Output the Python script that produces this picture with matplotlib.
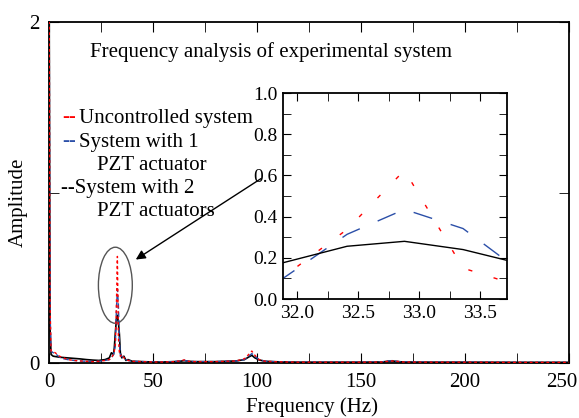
import matplotlib
matplotlib.use('Agg')
import matplotlib.pyplot as plt
import matplotlib.transforms as mtransforms
from matplotlib.patches import Ellipse

plt.rcParams['font.family'] = ['Liberation Serif', 'DejaVu Serif']

# main spectrum (Hz, amplitude)
freq = [0, 0.5, 1, 2, 3, 4, 5, 7, 9, 12, 15, 18, 21, 24, 27, 29, 30, 31, 31.41,
        31.88, 32.41, 32.88, 33.36, 33.84, 34.3, 35, 36, 37, 38, 40, 45, 50, 55,
        60, 63, 65, 67, 70, 80, 90, 94, 96, 97.5, 99, 101, 104, 110, 120, 135,
        150, 160, 163, 165, 167, 170, 185, 200, 225, 250]
amp_red = [2.5, 0.35, 0.07, 0.065, 0.06, 0.05, 0.04, 0.03, 0.02, 0.015, 0.012, 0.01,
           0.008, 0.01, 0.015, 0.02, 0.03, 0.05, 0.07,
           0.106, 0.338, 0.625, 0.15, 0.06, 0.04, 0.05, 0.03, 0.025, 0.015, 0.01,
           0.008, 0.006, 0.006, 0.008, 0.012, 0.018, 0.01, 0.008, 0.008, 0.012,
           0.025, 0.05, 0.07, 0.045, 0.02, 0.01, 0.007, 0.005, 0.005, 0.005,
           0.006, 0.01, 0.012, 0.01, 0.006, 0.005, 0.005, 0.004, 0.004]
amp_blue = [2.5, 0.3, 0.07, 0.06, 0.055, 0.045, 0.035, 0.025, 0.02, 0.015, 0.012, 0.01,
            0.009, 0.01, 0.015, 0.02, 0.03, 0.05, 0.07,
            0.10, 0.314, 0.435, 0.342, 0.13, 0.05, 0.04, 0.03, 0.02, 0.015, 0.01,
            0.008, 0.006, 0.006, 0.008, 0.012, 0.016, 0.01, 0.008, 0.008, 0.012,
            0.02, 0.04, 0.055, 0.04, 0.02, 0.01, 0.007, 0.005, 0.005, 0.005,
            0.006, 0.012, 0.014, 0.01, 0.006, 0.005, 0.005, 0.004, 0.004]
amp_black = [2.5, 0.2, 0.05, 0.04, 0.038, 0.036, 0.034, 0.032, 0.03, 0.027, 0.024, 0.02,
             0.017, 0.015, 0.02, 0.03, 0.06, 0.05, 0.09,
             0.176, 0.256, 0.28, 0.24, 0.17, 0.06, 0.03, 0.04, 0.015, 0.02, 0.01,
             0.008, 0.006, 0.006, 0.008, 0.01, 0.014, 0.01, 0.008, 0.008, 0.012,
             0.02, 0.035, 0.045, 0.03, 0.018, 0.01, 0.007, 0.005, 0.005, 0.005,
             0.006, 0.01, 0.012, 0.009, 0.006, 0.005, 0.005, 0.004, 0.004]

# zoomed peak for the inset
inset_freq = [31.885, 32.41, 32.88, 33.36, 33.84]
inset_red = [0.106, 0.338, 0.625, 0.15, 0.06]
inset_blue = [0.10, 0.314, 0.435, 0.342, 0.13]
inset_black = [0.176, 0.256, 0.28, 0.24, 0.17]

fig = plt.figure(figsize=(5.79, 4.18), dpi=100)
ax = fig.add_axes([49/579, 55/418, 520/579, 341/418])

ax.plot(freq, amp_red, color='red', ls=(0, (2, 2)), lw=1.0, zorder=3)
ax.plot(freq, amp_blue, color='#2b4fa8', ls=(0, (4, 2)), lw=1.0, zorder=2)
ax.plot(freq, amp_black, color='black', lw=1.2, zorder=1)

ax.set_xlim(0, 250)
ax.set_ylim(0, 2)
ax.set_xticks([0, 50, 100, 150, 200, 250])
ax.set_xticks([25, 75, 125, 175, 225], minor=True)
ax.set_yticks([0, 2])
ax.set_yticks([1], minor=True)
ax.tick_params(which='both', direction='in', top=True, right=True, labelsize=15)
ax.tick_params(which='major', length=7, pad=7)
ax.tick_params(which='minor', length=7)
for s in ax.spines.values():
    s.set_linewidth(1.3)
# last label sits a bit left in the original, keep it inside the figure
lab = ax.get_xticklabels()[-1]
lab.set_transform(lab.get_transform() + mtransforms.ScaledTranslation(-7/100, 0, fig.dpi_scale_trans))

ell = Ellipse((31.9, 0.456), 16.3, 0.446, fill=False, edgecolor='#555555', lw=1.0)
ax.add_patch(ell)
ax.annotate('', xy=(40.6, 0.598), xytext=(103, 1.09),
            arrowprops=dict(arrowstyle='-|>', color='black', lw=1.0, mutation_scale=14))

fig.text(271/579, 1 - 52/418, 'Frequency analysis of experimental system',
         ha='center', va='center', fontsize=15)
fig.text(18/579, 1 - 202/418, 'Amplitude', rotation=90, ha='center', va='center', fontsize=15)
fig.text(312/579, 1 - 407/418, 'Frequency (Hz)', ha='center', va='center', fontsize=15)

# legend written as text, like the original
fig.text(62/579, 1 - 118/418, '--', color='red', va='center', fontsize=15)
fig.text(79/579, 1 - 118/418, 'Uncontrolled system', va='center', fontsize=15)
fig.text(62/579, 1 - 142/418, '--', color='#2b4fa8', va='center', fontsize=15)
fig.text(79/579, 1 - 142/418, 'System with 1', va='center', fontsize=15)
fig.text(97/579, 1 - 166/418, 'PZT actuator', va='center', fontsize=15)
fig.text(61/579, 1 - 189/418, '--System with 2', va='center', fontsize=15)
fig.text(97/579, 1 - 212/418, 'PZT actuators', va='center', fontsize=15)

# inset
ins = fig.add_axes([283/579, 119/418, 224/579, 206/418])
ins.plot(inset_freq, inset_red, color='red', ls=(6, (3, 16)), lw=1.0)
ins.plot(inset_freq, inset_blue, color='#2b4fa8', ls=(4, (14, 14)), lw=1.0)
ins.plot(inset_freq, inset_black, color='black', lw=1.0)
ins.set_xlim(31.885, 33.72)
ins.set_ylim(0, 1.0)
ins.set_xticks([32.0, 32.5, 33.0, 33.5])
ins.set_xticks([32.25, 32.75, 33.25], minor=True)
ins.set_yticks([0.0, 0.2, 0.4, 0.6, 0.8, 1.0])
ins.set_yticks([0.1, 0.3, 0.5, 0.7, 0.9], minor=True)
ins.set_xticklabels(['32.0', '32.5', '33.0', '33.5'])
ins.set_yticklabels(['0.0', '0.2', '0.4', '0.6', '0.8', '1.0'])
ins.tick_params(which='both', direction='in', top=True, right=True, labelsize=14, length=6)
ins.tick_params(which='major', pad=4)
for s in ins.spines.values():
    s.set_linewidth(1.3)

fig.savefig('out.png', dpi=100)
